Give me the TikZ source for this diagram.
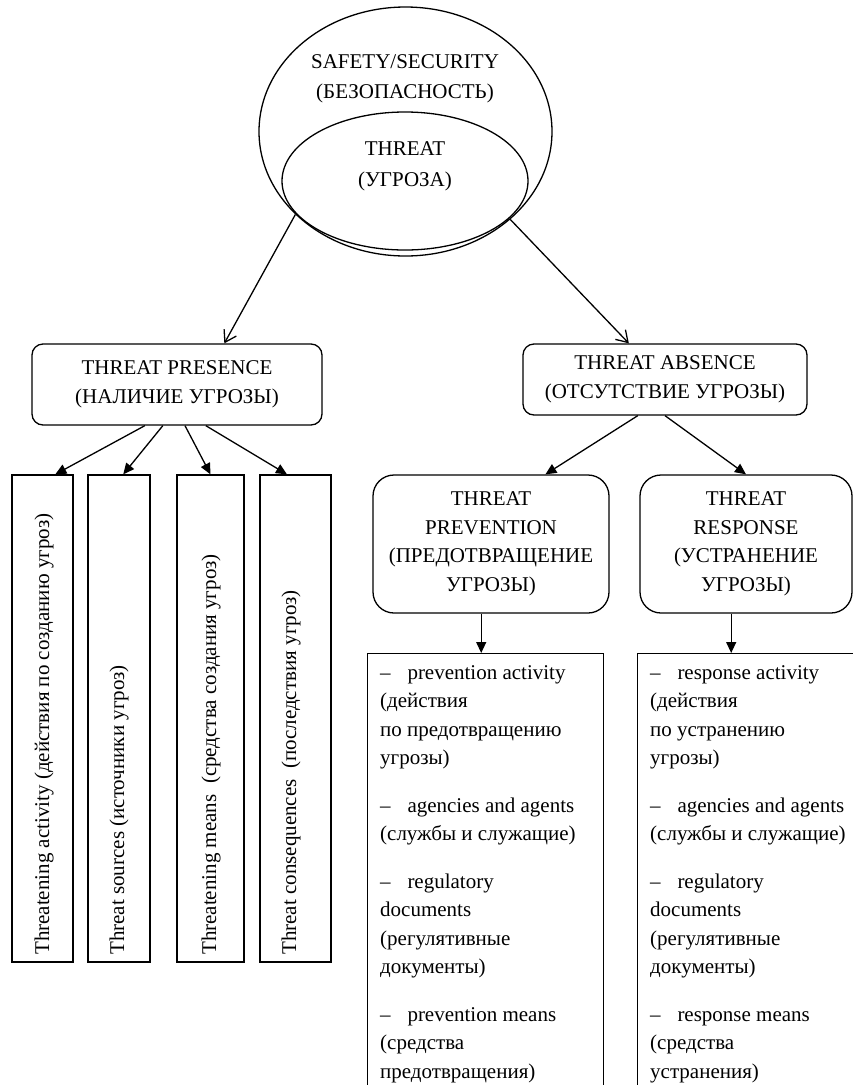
\documentclass[tikz,border=0pt]{standalone}
\usepackage{fontspec}
\setmainfont{Liberation Serif}
\usetikzlibrary{arrows.meta,shapes.geometric,positioning}
\tikzset{%
  oval/.style={draw,ellipse,line width=1.3pt,inner sep=0pt},%
  rbox/.style={draw,rounded corners=#1,line width=1.3pt,align=center,inner sep=0pt},%
  rbox/.default=11pt,%
  vbox/.style={draw,line width=1.3pt,minimum width=#1,minimum height=487pt,inner sep=0pt},%
  vtxt/.style={rotate=90,anchor=west,inner sep=0pt},%
  lbox/.style={draw,line width=1.3pt,anchor=north west,minimum height=460pt,inner sep=0pt},%
  ltxt/.style={anchor=north west,align=left,inner sep=0pt},%
  barb/.style={-{Straight Barb[length=11pt,width=14pt]},line width=1.3pt},%
  tri/.style={-{Triangle[length=11pt,width=10pt]},line width=1.3pt}%
}
\newcommand{\dash}{--\hspace{0.8em}}
\begin{document}
\begin{tikzpicture}[x=1pt,y=-1pt,font=\fontsize{21}{28.5}\selectfont]
  \useasboundingbox (0,0) rectangle (853,1085);
  \clip (0,0) rectangle (853,1085);
  % safety / threat
  \node[oval,minimum width=293pt,minimum height=249pt] (safety) at (405.5,131.5) {};
  \node[oval,minimum width=246pt,minimum height=138pt] (threat) at (405,181) {};
  \node[align=center,font=\fontsize{21}{30}\selectfont] (safetytxt) at (405,79) {SAFETY/SECURITY\\(БЕЗОПАСНОСТЬ)};
  \node[align=center,font=\fontsize{21}{31}\selectfont] (threattxt) at (405,166) {THREAT\\(УГРОЗА)};
  % presence / absence
  \node[rbox,minimum width=290pt,minimum height=81pt] (presence) at (177,384.5) {THREAT PRESENCE\\(НАЛИЧИЕ УГРОЗЫ)};
  \node[rbox,minimum width=284pt,minimum height=71pt] (absence) at (665,379.5) {THREAT ABSENCE\\(ОТСУТСТВИЕ УГРОЗЫ)};
  % presence items
  \node[vbox=61pt] (va) at (42.5,718.5) {};
  \node[vbox=62pt] (vb) at (119,718.5) {};
  \node[vbox=67pt] (vc) at (210.5,718.5) {};
  \node[vbox=71pt] (vd) at (295.5,718.5) {};
  \node[vtxt] (vatxt) at (44,955) {Threatening activity (действия по созданию угроз)};
  \node[vtxt] (vbtxt) at (119,955) {Threat sources (источники угроз)};
  \node[vtxt] (vctxt) at (211,955) {Threatening means \ (средства создания угроз)};
  \node[vtxt] (vdtxt) at (291,955) {Threat consequences \ (последствия угроз)};
  % prevention / response
  \node[rbox=21pt,minimum width=236pt,minimum height=138pt] (prevention) at (491,544) {THREAT\\PREVENTION\\(ПРЕДОТВРАЩЕНИЕ\\УГРОЗЫ)};
  \node[rbox=21pt,minimum width=212pt,minimum height=138pt] (response) at (746,544) {THREAT\\RESPONSE\\(УСТРАНЕНИЕ\\УГРОЗЫ)};
  \node[lbox,minimum width=236pt] (prevlist) at (367,653) {};
  \node[lbox,minimum width=240pt] (resplist) at (637,653) {};
  \node[ltxt] (prevtxt) at (380,665) {\dash prevention activity\\(действия\\по предотвращению\\угрозы)\\[19pt]
    \dash agencies and agents\\(службы и служащие)\\[19pt]
    \dash regulatory\\documents\\(регулятивные\\документы)\\[19pt]
    \dash prevention means\\(средства\\предотвращения)};
  \node[ltxt] (resptxt) at (650,665) {\dash response activity\\(действия\\по устранению\\угрозы)\\[19pt]
    \dash agencies and agents\\(службы и служащие)\\[19pt]
    \dash regulatory\\documents\\(регулятивные\\документы)\\[19pt]
    \dash response means\\(средства\\устранения)};
  % arrows
  \draw[barb] (safety.217) -- (presence.41);
  \draw[barb] (safety.-40) -- (absence.135);
  \draw[tri] (presence.232) -- (va.87);
  \draw[tri] (presence.251) -- (vb.89);
  \draw[tri] (presence.281) -- (vc.north);
  \draw[tri] (presence.305) -- (vd.92);
  \draw[tri] (absence.233) -- (prevention.52);
  \draw[tri] (absence.south) -- (response.north);
  \draw[tri] (prevention.262) -- (prevention.262 |- prevlist.north);
  \draw[tri] (response.258) -- (response.258 |- resplist.north);
\end{tikzpicture}
\end{document}
